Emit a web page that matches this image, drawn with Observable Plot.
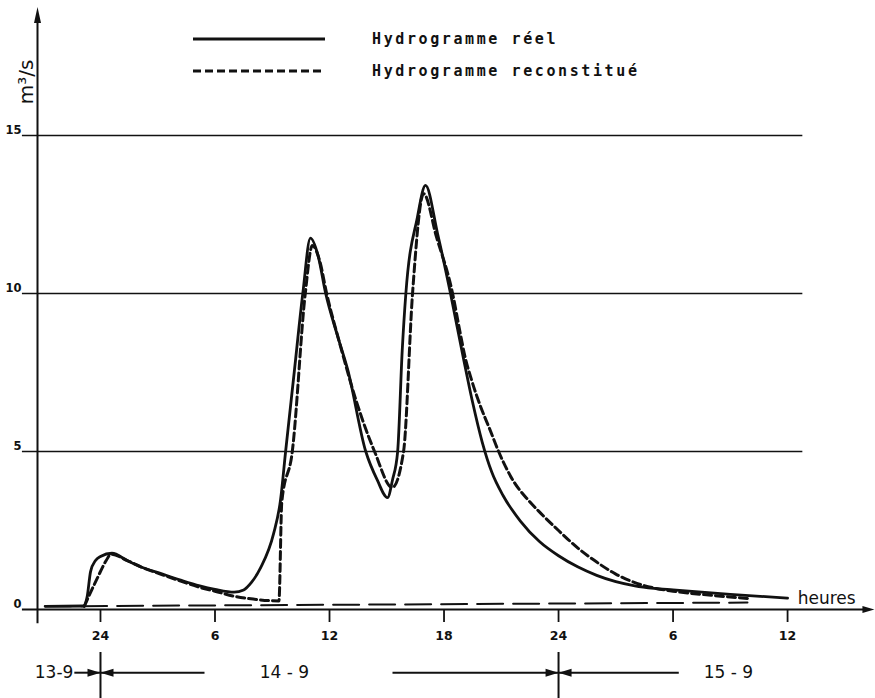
<!DOCTYPE html>
<html><head><meta charset="utf-8">
<script src="https://cdn.jsdelivr.net/npm/d3@7"></script>
<script src="https://cdn.jsdelivr.net/npm/@observablehq/plot@0.6"></script>
<style>body{margin:0;background:#fff} #chart{position:relative;width:875px;height:698px}</style>
</head><body><div id="chart"></div>
<script>
// Time t in hours from 14-9 00:00 ; discharge q in m3/s
const reelT = [-2.9,-0.9,-0.7,-0.52,-0.26,0.0,0.6,1.4,2.2,3.1,4.2,5.2,6.0,7.0,7.5,7.9,8.4,9.07,9.43,9.7,10.15,10.6,11.0,11.4,11.8,12.4,12.95,13.9,14.5,15.04,15.3,15.57,15.81,16.0,16.6,17.03,17.66,18.34,19.0,19.5,20.0,20.5,21.1,22.0,23.0,24.0,25.0,26.0,27.0,28.0,29.0,30.0,33.0,36.0];
const reelQ = [0.1,0.11,0.4,1.2,1.55,1.68,1.78,1.55,1.33,1.15,0.93,0.75,0.64,0.55,0.62,0.85,1.33,2.4,3.45,5.0,7.5,10.0,11.75,11.2,10.0,8.7,7.6,5.0,4.1,3.54,4.1,5.0,8.2,10.0,12.4,13.42,11.9,10.0,8.0,6.55,5.3,4.35,3.6,2.8,2.15,1.7,1.35,1.08,0.88,0.75,0.67,0.62,0.48,0.36];
const reconT = [-0.85,-0.16,0.3,0.55,1.4,2.2,3.1,4.2,5.2,6.0,7.0,8.0,9.35,9.5,10.05,10.73,11.1,11.5,11.85,12.5,13.4,14.36,15.29,15.88,16.35,16.93,17.6,18.45,18.8,19.1,19.45,19.9,20.4,20.86,21.6,22.43,23.06,24.0,25.0,26.0,27.0,28.0,29.0,30.0,32.0,33.9];
const reconQ = [0.1,1.0,1.55,1.75,1.55,1.33,1.13,0.9,0.7,0.58,0.42,0.33,0.27,3.4,5.0,10.0,11.52,11.0,10.0,8.5,6.6,5.0,3.86,5.0,10.0,13.16,11.8,10.0,8.9,8.0,7.25,6.45,5.7,5.0,4.1,3.45,3.05,2.5,1.95,1.5,1.12,0.85,0.68,0.58,0.45,0.35];
const baseT = [-2.9, 33.9];
const baseQ = [0.1, 0.22];

const tickT = [0,6,12,18,24,30,36];
const tickLabels = ["24","6","12","18","24","6","12"];
const gridQ = [5,10,15];
const yTicks = [0,5,10,15];
const dayBounds = [0,24];
const dayLabels = ["13-9","14 - 9","15 - 9"];
const dayLabelT = [-1.42, 9.64, 32.9];
const legendLabels = ["Hydrogramme réel","Hydrogramme reconstitué"];

const reel = reelT.map((t,i)=>({t, q:reelQ[i]}));
const recon = reconT.map((t,i)=>({t, q:reconQ[i]}));
const base = baseT.map((t,i)=>({t, q:baseQ[i]}));

const X0 = -3.3, XMAX = 40.45, YMAX = 19.02;
const yDay = -2.0;

const arrowUp = {draw(c){c.moveTo(0,0);c.lineTo(-3.5,16);c.lineTo(3.5,16);c.closePath();}};
const arrowRight = {draw(c){c.moveTo(0,0);c.lineTo(-12,-3.5);c.lineTo(-12,3.5);c.closePath();}};
const headR = {draw(c){c.moveTo(0,0);c.lineTo(-13,-4);c.lineTo(-13,4);c.closePath();}};
const headL = {draw(c){c.moveTo(0,0);c.lineTo(13,-4);c.lineTo(13,4);c.closePath();}};

const ink = "#111";
const shafts = [
  {a:dayLabelT[0]+0.05, b:dayBounds[0]},
  {a:dayBounds[0], b:5.45},
  {a:15.3, b:dayBounds[1]},
  {a:dayBounds[1], b:30.3}
];

const svg = Plot.plot({
  width: 875, height: 698,
  marginLeft: 37, marginRight: 3, marginTop: 8, marginBottom: 89,
  x: {domain: [X0, XMAX], axis: null},
  y: {domain: [0, YMAX], axis: null},
  style: {fontFamily: "DejaVu Sans, sans-serif", color: ink, background: "#fff"},
  marks: [
    Plot.ruleY(gridQ, {x1: -4.09, x2: 36.8, stroke: ink, strokeWidth: 1.4}),
    Plot.ruleY([0], {x1: -4.09, x2: 40.0, stroke: ink, strokeWidth: 2}),
    Plot.ruleX([X0], {y1: -0.45, y2: YMAX - 0.3, stroke: ink, strokeWidth: 2}),
    Plot.dot([0], {x: () => X0, y: () => YMAX + 0.05, symbol: arrowUp, fill: ink, stroke: "none"}),
    Plot.dot([0], {x: () => XMAX + 0.1, y: () => 0, symbol: arrowRight, fill: ink, stroke: "none"}),
    Plot.axisX({ticks: tickT, tickFormat: d => tickLabels[tickT.indexOf(d)], label: null, tickSize: 13, tickPadding: 9, strokeWidth: 1.8, fontSize: 12.5, fontWeight: "bold", stroke: ink, fill: ink}),
    Plot.axisY({ticks: yTicks, label: null, tickSize: 0, tickPadding: 16, dy: -5, fontSize: 11.5, fontWeight: "bold", fill: ink}),
    Plot.line(base, {x: "t", y: "q", stroke: ink, strokeWidth: 2, strokeDasharray: "26,10"}),
    Plot.line(reel, {x: "t", y: "q", curve: "monotone-x", stroke: ink, strokeWidth: 2.8}),
    Plot.line(recon, {x: "t", y: "q", curve: "monotone-x", stroke: ink, strokeWidth: 3, strokeDasharray: "8,4"}),
    Plot.text(["heures"], {x: () => 36.53, y: () => 0.16, text: d => d, textAnchor: "start", lineAnchor: "bottom", fontSize: 17, fill: ink}),
    Plot.text(["m³/s"], {x: () => -3.85, y: () => 16.7, text: d => d, rotate: -90, fontSize: 20, fill: ink}),
    Plot.ruleX(dayBounds, {y1: -1.36, y2: -2.85, stroke: ink, strokeWidth: 2}),
    Plot.link(shafts, {x1: "a", x2: "b", y1: () => yDay, y2: () => yDay, stroke: ink, strokeWidth: 2}),
    Plot.dot(dayBounds, {x: d => d, y: () => yDay, symbol: headR, fill: ink, stroke: "none"}),
    Plot.dot(dayBounds, {x: d => d, y: () => yDay, symbol: headL, fill: ink, stroke: "none"}),
    Plot.text(dayLabels.slice(0,1), {x: () => dayLabelT[0], y: () => yDay, text: d => d, textAnchor: "end", fontSize: 17, fill: ink}),
    Plot.text(dayLabels.slice(1), {x: (d,i) => dayLabelT[i+1], y: () => yDay, text: d => d, textAnchor: "middle", fontSize: 17, fill: ink})
  ]
});
document.getElementById("chart").appendChild(svg);

// legend
const g = d3.select(svg).append("g").attr("text-anchor","start");
const legY = [39, 71];
g.append("line").attr("x1",193).attr("x2",325).attr("y1",legY[0]).attr("y2",legY[0]).attr("stroke",ink).attr("stroke-width",3);
g.append("line").attr("x1",193).attr("x2",325).attr("y1",legY[1]).attr("y2",legY[1]).attr("stroke",ink).attr("stroke-width",3).attr("stroke-dasharray","8,4");
legendLabels.forEach((s,i)=>{
  g.append("text").attr("x",372).attr("y",legY[i]+5).attr("text-anchor","start").attr("font-family","DejaVu Sans Mono, monospace").attr("font-weight","bold").attr("font-size",15).attr("letter-spacing","2.6px").attr("fill",ink).text(s);
});
</script></body></html>
